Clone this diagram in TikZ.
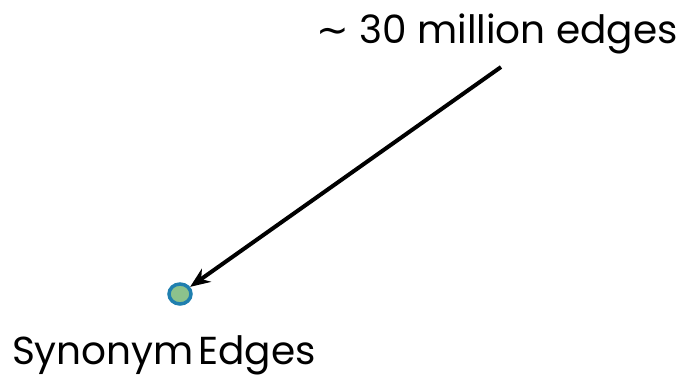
\documentclass[tikz,border=0pt]{standalone}
\usepackage{fontspec}
\setmainfont{Poppins}
\newfontfamily\symfont{DejaVu Sans}
\usetikzlibrary{arrows.meta,shapes.geometric}
\definecolor{nodefill}{HTML}{8CC28C}
\definecolor{nodeedge}{HTML}{1F7FAF}
\tikzset{
  lbl/.style={font=\fontsize{39}{44}\selectfont, inner sep=0pt},
  dot/.style={ellipse, draw=nodeedge, fill=nodefill, line width=3.5pt, minimum width=22pt, minimum height=20pt, inner sep=0pt},
  conn/.style={line width=4pt, -{Stealth[length=20pt,width=16pt]}}
}
\begin{document}
\begin{tikzpicture}[x=1pt,y=-1pt]
\useasboundingbox (0,0) rectangle (694,386);
\node[lbl] (top) at (497,34) {{\symfont ∼} 30 million edges};
\node[dot] (n) at (180,294) {};
\node[lbl] (bot) at (164,355) {Synonym\hspace{0.12em}Edges};
\coordinate (start) at (501,67);
\draw[conn] (start) -- (n);
\end{tikzpicture}
\end{document}
